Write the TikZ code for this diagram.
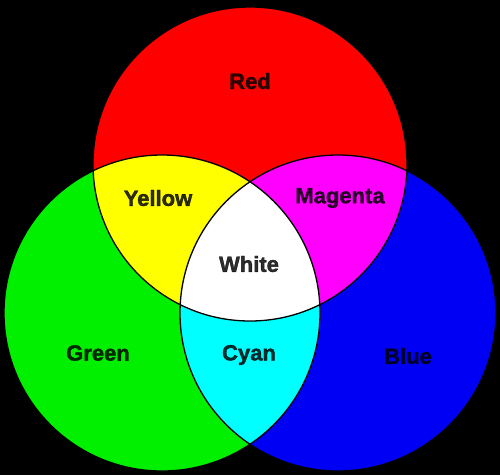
\documentclass[tikz,border=0pt]{standalone}
\usepackage{fontspec}
\setmainfont[BoldFeatures={FakeBold=1.5}]{Liberation Sans}
\definecolor{cRed}{RGB}{255,0,0}
\definecolor{cGreen}{RGB}{0,240,0}
\definecolor{cBlue}{RGB}{0,0,245}
\definecolor{cYellow}{RGB}{255,255,0}
\definecolor{cMagenta}{RGB}{255,0,255}
\definecolor{cCyan}{RGB}{0,255,255}
\tikzset{
  lbl/.style={font=\fontsize{22}{26}\selectfont\bfseries, text=black, text opacity=0.82, inner sep=0pt},
  rim/.style={draw=black, line width=1.3pt}
}
\begin{document}
\begin{tikzpicture}[x=1pt,y=-1pt]
\fill[black] (0,0) rectangle (500,475);
\path[use as bounding box] (0,0) rectangle (500,475);
\coordinate (R) at (250,164);
\coordinate (G) at (162,313);
\coordinate (B) at (338,313);
\def\rR{157pt}
\def\rG{158pt}
% primaries
\fill[cRed] (R) circle[radius=\rR];
\fill[cGreen] (G) circle[radius=\rG];
\fill[cBlue] (B) circle[radius=\rG];
% yellow = red & green
\begin{scope}
  \clip (R) circle[radius=\rR];
  \fill[cYellow] (G) circle[radius=\rG];
\end{scope}
% magenta = red & blue
\begin{scope}
  \clip (R) circle[radius=\rR];
  \fill[cMagenta] (B) circle[radius=\rG];
\end{scope}
% cyan = green & blue
\begin{scope}
  \clip (G) circle[radius=\rG];
  \fill[cCyan] (B) circle[radius=\rG];
\end{scope}
% white = all three
\begin{scope}
  \clip (R) circle[radius=\rR];
  \clip (G) circle[radius=\rG];
  \fill[white] (B) circle[radius=\rG];
\end{scope}
% outlines
\draw[rim] (R) circle[radius=\rR];
\draw[rim] (G) circle[radius=\rG];
\draw[rim] (B) circle[radius=\rG];
% labels
\node[lbl] (lred) at (250,81) {Red};
\node[lbl] (lyellow) at (158,198) {Yellow};
\node[lbl] (lmagenta) at (340,198) {Magenta};
\node[lbl] (lwhite) at (249,264) {White};
\node[lbl] (lgreen) at (98,353) {Green};
\node[lbl] (lcyan) at (249,355) {Cyan};
\node[lbl] (lblue) at (408,356) {Blue};
\end{tikzpicture}
\end{document}
